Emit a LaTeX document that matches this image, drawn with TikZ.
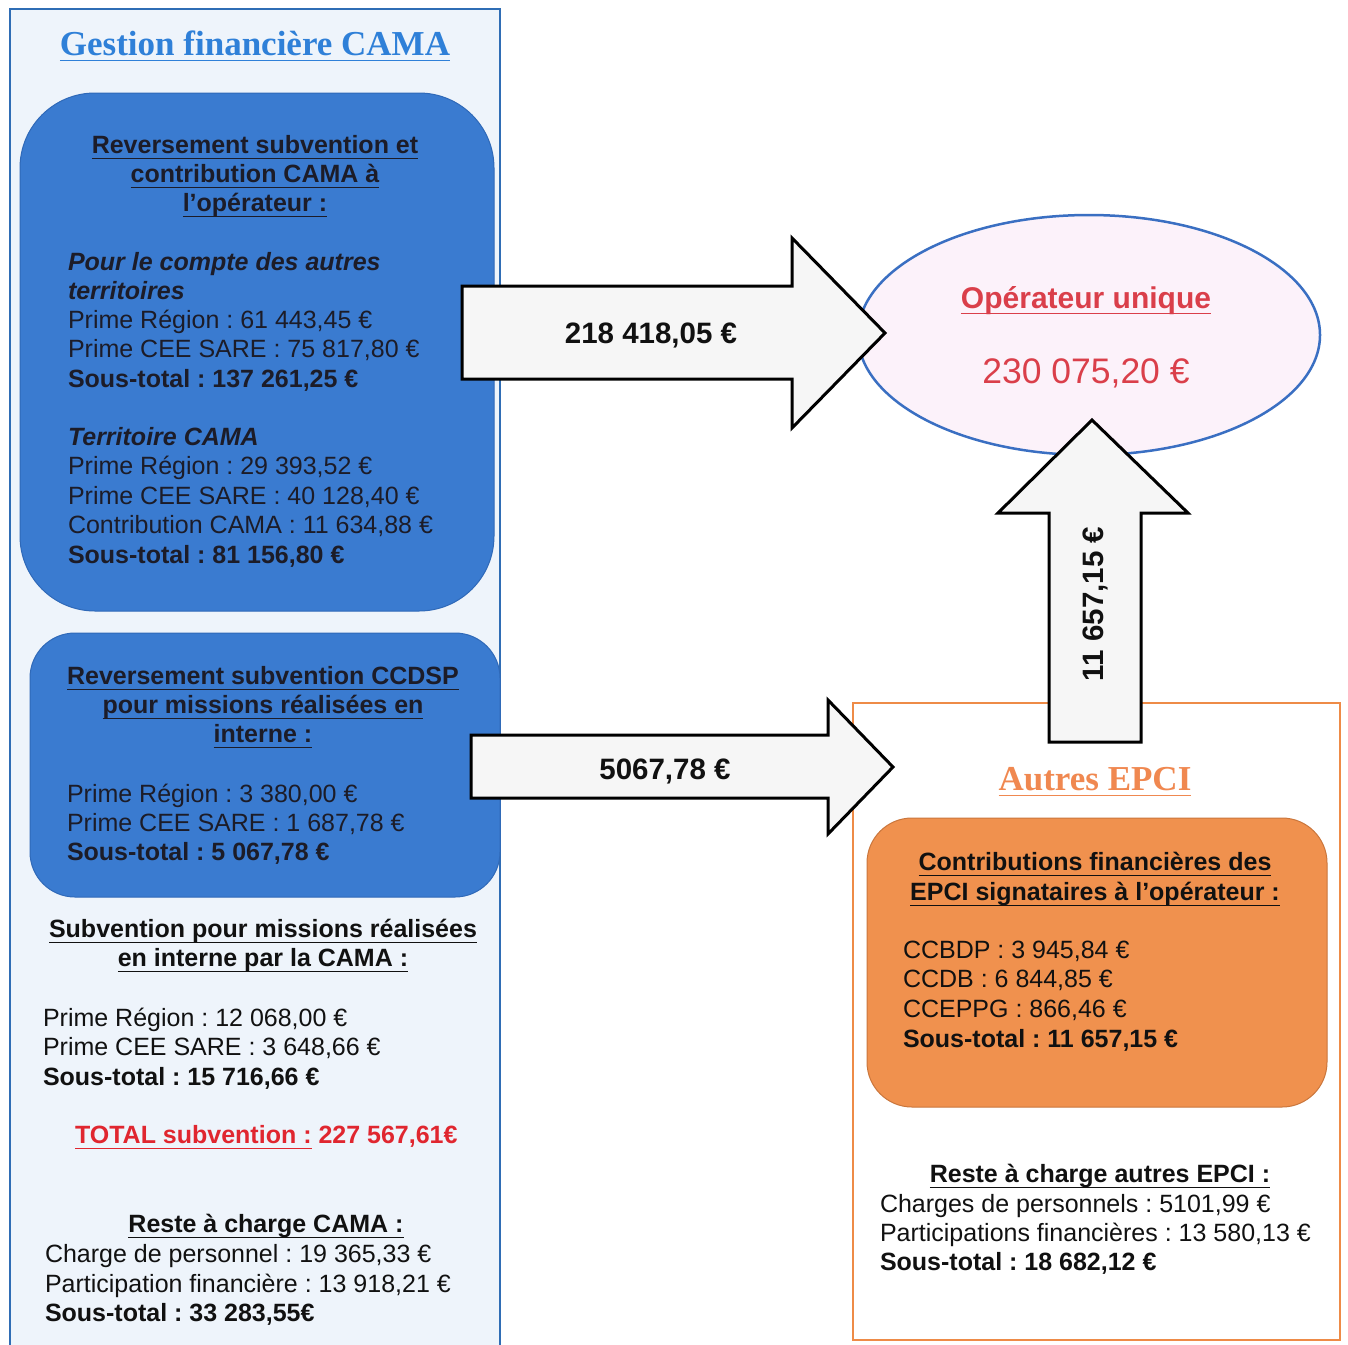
\documentclass[tikz,border=0pt]{standalone}
\usepackage{fontspec}
\setmainfont{Liberation Sans}
\newfontfamily\ttlfont{Liberation Serif}
\usetikzlibrary{shapes.geometric}
\frenchspacing
\definecolor{panelbg}{HTML}{EEF4FB}
\definecolor{panelbd}{HTML}{2F6DB5}
\definecolor{boxblue}{HTML}{3A7BD0}
\definecolor{boxbluebd}{HTML}{2F69B8}
\definecolor{titleblue}{HTML}{2F80D8}
\definecolor{boxorange}{HTML}{F0914E}
\definecolor{orangebd}{HTML}{EE8B47}
\definecolor{orangetxt}{HTML}{F08850}
\definecolor{redtxt}{HTML}{E0262F}
\definecolor{optxt}{HTML}{DA3F4A}
\definecolor{ellfill}{HTML}{FCF2FA}
\definecolor{ellbd}{HTML}{3A6FC2}
\definecolor{arrfill}{HTML}{F6F6F6}
\definecolor{darktxt}{HTML}{1C1C28}
\definecolor{blacktxt}{HTML}{111111}
\newcommand\myfs{\fontsize{25}{29}\selectfont}
\newcommand\myul[1]{\leavevmode\vtop{\hbox{\smash{#1}}\kern4.5pt\hrule height 1.6pt}}
\begin{document}
\begin{tikzpicture}[x=1pt,y=-1pt,
  every node/.style={inner sep=0pt, outer sep=0pt},
  ln/.style={anchor=base west, font=\myfs\frenchspacing, text=#1},
  ln/.default=blacktxt,
  hd/.style={anchor=base, font=\myfs\frenchspacing\bfseries, text=#1},
  hd/.default=blacktxt,
  blockarrow/.style={draw=black, line width=3pt, fill=arrfill, line join=miter},
  arrlabel/.style={font=\fontsize{29.5}{34}\selectfont\bfseries, text=blacktxt},
  panel/.style={line width=2.8pt},
  roundbox/.style={line width=1pt}
]
\useasboundingbox (0,0) rectangle (1348,1344);
\fill[white] (0,0) rectangle (1348,1344);

% ---------- left panel ----------
\draw[panel, draw=panelbd, fill=panelbg] (10,9) rectangle (500,1370);
\node[anchor=base, text=titleblue, font=\ttlfont\bfseries\fontsize{35}{40}\selectfont] (title) at (255,55) {\myul{Gestion financière CAMA}};

\draw[roundbox, draw=boxbluebd, fill=boxblue, rounded corners=75pt] (20,93) rectangle (494,611);
\draw[roundbox, draw=boxbluebd, fill=boxblue, rounded corners=45pt] (30,633) rectangle (500,897);

% box 1
\foreach \y/\t [count=\i] in {153/{Reversement subvention et}, 182/{contribution CAMA à}, 211/{l'opérateur :}}
  \node[hd=darktxt] (bAh\i) at (255,\y) {\myul{\t}};
\foreach \y/\t [count=\i] in {270/{\textbf{\textit{Pour le compte des autres}}}, 299/{\textbf{\textit{territoires}}},
  328/{Prime Région : 61 443,45 €}, 357/{Prime CEE SARE : 75 817,80 €}, 387/{\textbf{Sous-total : 137 261,25 €}},
  445/{\textbf{\textit{Territoire CAMA}}}, 474/{Prime Région : 29 393,52 €}, 504/{Prime CEE SARE : 40 128,40 €},
  533/{Contribution CAMA : 11 634,88 €}, 563/{\textbf{Sous-total : 81 156,80 €}}}
  \node[ln=darktxt] (bA\i) at (68,\y) {\t};

% box 2
\foreach \y/\t [count=\i] in {684/{Reversement subvention CCDSP}, 713/{pour missions réalisées en}, 742/{interne :}}
  \node[hd=darktxt] (bBh\i) at (263,\y) {\myul{\t}};
\foreach \y/\t [count=\i] in {802/{Prime Région : 3 380,00 €}, 831/{Prime CEE SARE : 1 687,78 €}, 860/{\textbf{Sous-total : 5 067,78 €}}}
  \node[ln=darktxt] (bB\i) at (67,\y) {\t};

% subvention interne
\foreach \y/\t [count=\i] in {937/{Subvention pour missions réalisées}, 966/{en interne par la CAMA :}}
  \node[hd] (sIh\i) at (263,\y) {\myul{\t}};
\foreach \y/\t [count=\i] in {1026/{Prime Région : 12 068,00 €}, 1055/{Prime CEE SARE : 3 648,66 €}, 1085/{\textbf{Sous-total : 15 716,66 €}}}
  \node[ln] (sI\i) at (43,\y) {\t};

\node[ln=redtxt] (total) at (75,1143) {\textbf{\myul{TOTAL subvention :} 227 567,61€}};

% reste a charge CAMA
\node[hd] (rCh) at (266,1232) {\myul{Reste à charge CAMA :}};
\foreach \y/\t [count=\i] in {1262/{Charge de personnel : 19 365,33 €}, 1292/{Participation financière : 13 918,21 €}, 1321/{\textbf{Sous-total : 33 283,55€}}}
  \node[ln] (rC\i) at (45,\y) {\t};

% ---------- operateur ----------
\draw[draw=ellbd, line width=2.5pt, fill=ellfill] (1089,335) ellipse [x radius=231, y radius=120];
\node[anchor=base, text=optxt, font=\fontsize{30}{34}\selectfont\bfseries] (opt) at (1086,308) {\myul{Opérateur unique}};
\node[anchor=base, text=optxt, font=\fontsize{35.5}{40}\selectfont] (opv) at (1086,383) {230 075,20 €};

% ---------- right panel ----------
\draw[panel, draw=orangebd, fill=white] (853,703) rectangle (1340,1340);
\node[anchor=base, text=orangetxt, font=\ttlfont\bfseries\fontsize{35}{40}\selectfont] (epci) at (1095,790) {\myul{Autres EPCI}};
\draw[roundbox, draw=orangebd!85!black, fill=boxorange, rounded corners=45pt] (867,818) rectangle (1327,1107);
\foreach \y/\t [count=\i] in {870/{Contributions financières des}, 900/{EPCI signataires à l’opérateur :}}
  \node[hd] (cEh\i) at (1095,\y) {\myul{\t}};
\foreach \y/\t [count=\i] in {958/{CCBDP : 3 945,84 €}, 987/{CCDB : 6 844,85 €}, 1017/{CCEPPG : 866,46 €}, 1047/{\textbf{Sous-total : 11 657,15 €}}}
  \node[ln] (cE\i) at (903,\y) {\t};
\node[hd] (rEh) at (1100,1182) {\myul{Reste à charge autres EPCI :}};
\foreach \y/\t [count=\i] in {1212/{Charges de personnels : 5101,99 €}, 1241/{Participations financières : 13 580,13 €}, 1270/{\textbf{Sous-total : 18 682,12 €}}}
  \node[ln] (rE\i) at (880,\y) {\t};

% ---------- block arrows ----------
\draw[blockarrow] (462,286) -- (792,286) -- (792,238) -- (885,333) -- (792,428) -- (792,379) -- (462,379) -- cycle;
\node[arrlabel, anchor=base] (a1) at (651,343) {218 418,05 €};

\draw[blockarrow] (471,735) -- (828,735) -- (828,700) -- (893,767) -- (828,834) -- (828,798) -- (471,798) -- cycle;
\node[arrlabel, anchor=base] (a2) at (665,779) {5067,78 €};

\draw[blockarrow] (1049,742) -- (1049,513) -- (998,513) -- (1092,420) -- (1188,513) -- (1141,513) -- (1141,742) -- cycle;
\node[arrlabel, rotate=90] (a3) at (1095,604) {11 657,15 €};
\end{tikzpicture}
\end{document}
